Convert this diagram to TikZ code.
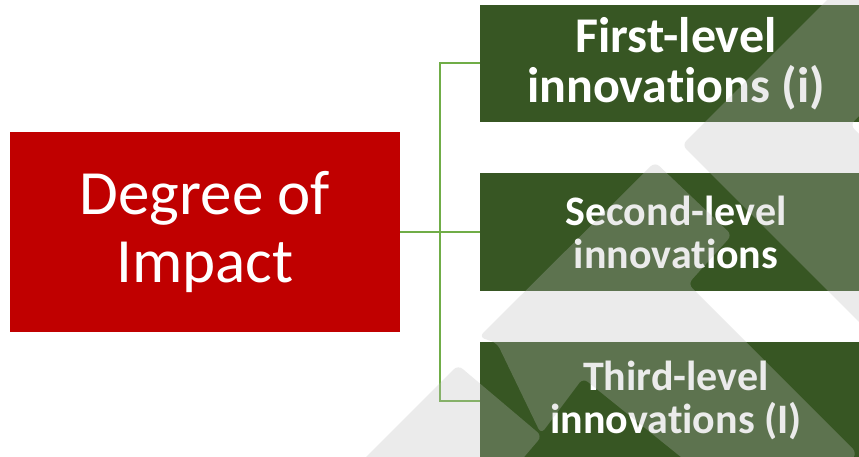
\documentclass[tikz,border=0pt]{standalone}
\usepackage{fontspec}
\setmainfont{Carlito}[Ligatures={NoCommon,NoRare,NoContextual}]
\definecolor{impred}{HTML}{C00000}
\definecolor{levgreen}{HTML}{375623}
\definecolor{linkgreen}{HTML}{70AD47}
\definecolor{wmgray}{RGB}{187,187,187}
\begin{document}
\begin{tikzpicture}[x=1pt,y=-1pt,
  redbox/.style={fill=impred, text=white, minimum width=390pt, minimum height=199pt,
    inner sep=0pt, align=center, font=\fontsize{63}{68}\selectfont},
  greenbox/.style={fill=levgreen, text=white, minimum width=392pt, minimum height=117pt,
    inner sep=0pt, align=center},
  bigtxt/.style={font=\bfseries\fontsize{50}{50}\selectfont},
  midtxt/.style={font=\bfseries\fontsize{42}{43}\selectfont},
  link/.style={draw=linkgreen, line width=2pt},
  wm/.style={fill=wmgray, fill opacity=0.295, rounded corners=6pt}]
\useasboundingbox (0,0) rectangle (859,457);
\fill[white] (0,0) rectangle (859,457);
\begin{scope}
\clip (0,0) rectangle (859,457);
\node[redbox] (deg) at (205,232) {Degree of\\Impact};
\node[greenbox, bigtxt] (g1) at (676,63.5) {First-level\\innovations (i)};
\node[greenbox, midtxt] (g2) at (676,232) {Second-level\\innovations};
\node[greenbox, midtxt] (g3) at (676,400.5) {Third-level\\innovations (I)};
\coordinate (j) at (440,232);
\draw[link] (deg.east) -- (j);
\draw[link] (j) -- (g2.west);
\draw[link] (j) |- (g1.west);
\draw[link] (j) |- (g3.west);
% watermark shapes
\fill[wm] (682,145) -- (840,-13) -- (880,-13) -- (880,95) -- (850,125) -- (880,155) -- (880,343) -- cycle;
\fill[wm] (655,162) -- (732,235) -- (688,284) -- (857,453) -- (844,470) -- (697,470)
  -- (583,378) -- (541,434) -- (497,343) -- (479,337) -- cycle;
\fill[wm] (458,365) -- (542,436) -- (513,470) -- (353,470) -- cycle;
\end{scope}
\end{tikzpicture}
\end{document}
